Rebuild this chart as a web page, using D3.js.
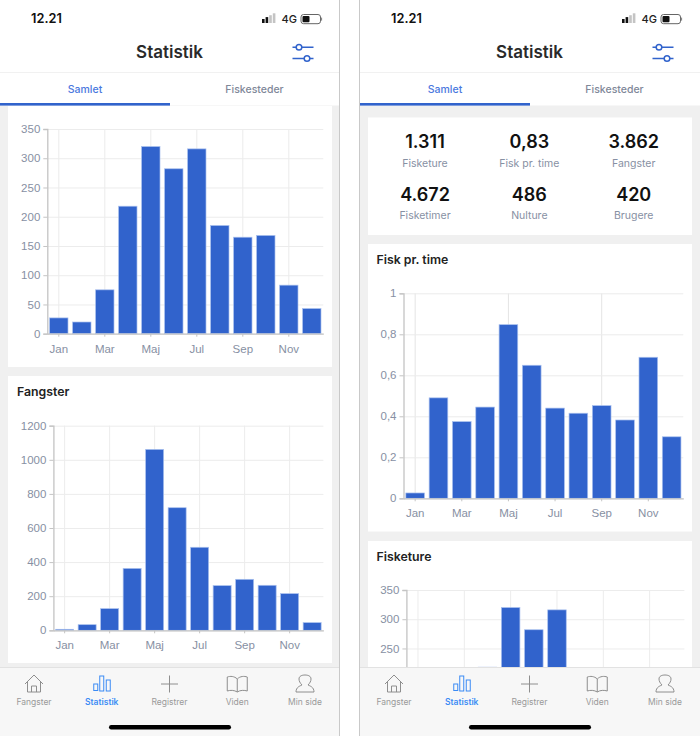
<!DOCTYPE html>
<html>
<head>
<meta charset="utf-8">
<title>Statistik</title>
<script src="https://cdn.jsdelivr.net/npm/d3@7"></script>
<style>
  html, body { margin: 0; padding: 0; background: #fff; }
  svg { display: block; }
  text { font-family: "Liberation Sans", Arial, sans-serif; }
  .ui { font-family: Inter, "Liberation Sans", sans-serif; }
  .axis text { fill: #8790a3; font-size: 11.5px; }
  .axis .domain { stroke: #c4c4c4; stroke-width: 1.3px; }
  .axis .tick line { stroke: #c4c4c4; }
  .grid .domain { display: none; }
  .grid .tick line { stroke: #ececec; }
</style>
</head>
<body>
<svg id="main" width="700" height="736"></svg>
<script>
var months = ["Jan", "Feb", "Mar", "Apr", "Maj", "Jun", "Jul", "Aug", "Sep", "Okt", "Nov", "Dec"];
var monthTicks = ["Jan", "Mar", "Maj", "Jul", "Sep", "Nov"];
var fiskGridMonths = ["Jan", "Maj", "Sep"];

var fisketure = [27, 20, 75, 218, 320, 282, 316, 185, 165, 168, 83, 43];
var fangster = [6, 33, 127, 363, 1061, 719, 487, 262, 299, 264, 215, 45];
var fiskPrTime = [0.026, 0.49, 0.374, 0.445, 0.847, 0.649, 0.44, 0.415, 0.452, 0.382, 0.688, 0.3];

var fisketureTicks = [0, 50, 100, 150, 200, 250, 300, 350];
var fisketureVisibleTicks = [250, 300, 350];
var fangsterTicks = [0, 200, 400, 600, 800, 1000, 1200];
var fiskTicks = [0, 0.2, 0.4, 0.6, 0.8, 1];

var statValues = ["1.311", "0,83", "3.862", "4.672", "486", "420"];
var statLabels = ["Fisketure", "Fisk pr. time", "Fangster", "Fisketimer", "Nulture", "Brugere"];
var tabLabels = ["Fangster", "Statistik", "Registrer", "Viden", "Min side"];

var svg = d3.select("#main");
var blue = "#3163cc";

function commaFormat(d) {
  return String(d).replace(".", ",");
}

function drawBarChart(parent, values, ticks, opt) {
  var g = parent.append("g");
  var labelTicks = opt.labelTicks || ticks;

  var x = d3.scaleBand().domain(months).range([opt.left, opt.right]).paddingInner(0.2).paddingOuter(0.1);
  var y = d3.scaleLinear().domain([0, ticks[ticks.length - 1]]).range([opt.bottom, opt.top]);

  // vertical grid on the labelled months, horizontal on every tick
  var vgrid = g.append("g")
    .attr("class", "grid")
    .attr("transform", "translate(0," + opt.bottom + ")")
    .call(d3.axisBottom(x).tickValues(opt.gridMonths || monthTicks).tickSize(opt.top - opt.bottom).tickFormat(""));
  if (opt.gridColor) vgrid.selectAll(".tick line").style("stroke", opt.gridColor);

  g.append("g")
    .attr("class", "grid")
    .attr("transform", "translate(" + opt.left + ",0)")
    .call(d3.axisLeft(y).tickValues(labelTicks).tickSize(opt.left - opt.right).tickFormat(""));

  g.selectAll("rect.bar")
    .data(values)
    .enter().append("rect")
      .attr("class", "bar")
      .attr("x", function(d, i) { return x(months[i]); })
      .attr("y", function(d) { return y(d); })
      .attr("width", x.bandwidth())
      .attr("height", function(d) { return opt.bottom - y(d); })
      .attr("fill", blue)
      .attr("stroke", "#a9c0ee")
      .attr("stroke-width", 0.7);

  g.append("g")
    .attr("class", "axis")
    .attr("transform", "translate(" + opt.left + ",0)")
    .call(d3.axisLeft(y).tickValues(labelTicks).tickSize(4).tickPadding(3).tickFormat(opt.format || d3.format("d")));

  // the last chart runs on below the tab bar, its month labels are out of view
  if (opt.hideMonths) return g;

  g.append("g")
    .attr("class", "axis")
    .attr("transform", "translate(0," + opt.bottom + ")")
    .call(d3.axisBottom(x).tickValues(monthTicks).tickSize(3).tickPadding(8).tickSizeOuter(0));
  return g;
}

function drawTitle(parent, label, x, y) {
  parent.append("text")
    .attr("class", "ui")
    .attr("x", x)
    .attr("y", y)
    .attr("font-size", 12.3)
    .attr("font-weight", 600)
    .attr("fill", "#222")
    .text(label);
}

function drawTabIcon(g, i, cx) {
  var stroke = i === 1 ? "#3b8bf5" : "#8e8e8e";
  var ic = g.append("g").attr("transform", "translate(" + cx + ",684)")
    .attr("fill", "none").attr("stroke", stroke).attr("stroke-width", 1);
  if (i === 0) {
    ic.append("path").attr("d", "M-9,0 L0,-9 L9,0 M-6.5,-2 V8 H6.5 V-2 M-2.5,8 V2 H2.5 V8");
  } else if (i === 1) {
    ic.append("rect").attr("x", -8).attr("y", 0).attr("width", 4).attr("height", 6.5);
    ic.append("rect").attr("x", -2).attr("y", -8).attr("width", 4).attr("height", 15);
    ic.append("rect").attr("x", 4.5).attr("y", -4).attr("width", 4).attr("height", 11);
  } else if (i === 2) {
    ic.append("path").attr("d", "M-8.5,0 H8.5 M0,-8.5 V8.5");
  } else if (i === 3) {
    ic.append("path").attr("d", "M0,-5 C-3,-8 -7,-8 -10,-7 V7 C-7,6 -3,6 0,8 C3,6 7,6 10,7 V-7 C7,-8 3,-8 0,-5 V8");
  } else {
    ic.append("path").attr("d", "M-9,8 C-9,3 -5,2 -3,1 C-5,-1 -6,-3 -6,-5 C-6,-8 -3,-9 0,-9 C3,-9 6,-8 6,-5 C6,-3 5,-1 3,1 C5,2 9,3 9,8 Z");
  }
}

// everything that is the same on both phone screens
function drawChrome(offset, width) {
  var g = svg.append("g").attr("transform", "translate(" + offset + ",0)");

  g.append("text").attr("class", "ui").attr("x", 31).attr("y", 23)
    .attr("font-size", 12.8).attr("font-weight", 600).attr("fill", "#111").text("12.21");

  // signal
  [0, 1, 2, 3].forEach(function(i) {
    g.append("rect").attr("x", 262 + i * 3.6).attr("y", 21 - 2 - i * 1.9)
      .attr("width", 2.6).attr("height", 4 + i * 1.9)
      .attr("fill", i < 2 ? "#111" : "#c4c4c4");
  });
  g.append("text").attr("class", "ui").attr("x", 281.5).attr("y", 23)
    .attr("font-size", 11).attr("font-weight", 500).attr("fill", "#222").text("4G");
  g.append("rect").attr("x", 301).attr("y", 14.5).attr("width", 19.5).attr("height", 9.2).attr("rx", 2.5)
    .attr("fill", "none").attr("stroke", "#666").attr("stroke-width", 1);
  g.append("rect").attr("x", 302.5).attr("y", 16).attr("width", 7).attr("height", 6.2).attr("rx", 1).attr("fill", "#111");
  g.append("rect").attr("x", 320.8).attr("y", 17.6).attr("width", 1.3).attr("height", 3).attr("fill", "#888");

  g.append("text").attr("class", "ui").attr("x", 169.5).attr("y", 58).attr("text-anchor", "middle")
    .attr("font-size", 17).attr("font-weight", 600).attr("fill", "#2a2a2a").text("Statistik");

  // filter icon
  var f = g.append("g").attr("fill", "#fff").attr("stroke", blue).attr("stroke-width", 1.5);
  f.append("path").attr("d", "M292.5,47.3 H313.5 M292.5,58.5 H313.5");
  f.append("circle").attr("cx", 299).attr("cy", 47.3).attr("r", 2.8);
  f.append("circle").attr("cx", 307).attr("cy", 58.5).attr("r", 2.8);

  g.append("path").attr("d", "M0,72.5 H" + width).attr("stroke", "#f1f1f1");

  g.append("text").attr("class", "ui").attr("x", 85).attr("y", 93).attr("text-anchor", "middle")
    .attr("font-size", 10.5).attr("font-weight", 500).attr("fill", "#4a78de").text("Samlet");
  g.append("text").attr("class", "ui").attr("x", 254.5).attr("y", 93).attr("text-anchor", "middle")
    .attr("font-size", 10.5).attr("font-weight", 500).attr("fill", "#7f8899").text("Fiskesteder");
  g.append("rect").attr("x", 0).attr("y", 103).attr("width", 170).attr("height", 2.6).attr("fill", blue);
}

function drawTabBar(offset, width) {
  var g = svg.append("g").attr("transform", "translate(" + offset + ",0)");
  g.append("rect").attr("x", 0).attr("y", 667.5).attr("width", width).attr("height", 68.5).attr("fill", "#f7f7f7");
  g.append("path").attr("d", "M0,667.5 H" + width).attr("stroke", "#e2e2e2");

  var tabX = d3.scalePoint().domain(tabLabels).range([34, 305]);
  tabLabels.forEach(function(label, i) {
    drawTabIcon(g, i, tabX(label));
    g.append("text").attr("class", "ui").attr("x", tabX(label)).attr("y", 705).attr("text-anchor", "middle")
      .attr("font-size", 8.5).attr("font-weight", i === 1 ? 600 : 400)
      .attr("fill", i === 1 ? "#3b8bf5" : "#9a9a9a").text(label);
  });
  g.append("rect").attr("x", 109).attr("y", 725).attr("width", 122).attr("height", 4.5).attr("rx", 2.2).attr("fill", "#000");
}

// page backgrounds
svg.append("rect").attr("x", 0).attr("y", 105.5).attr("width", 339).attr("height", 563).attr("fill", "#f0f0f0");
svg.append("rect").attr("x", 360).attr("y", 105.5).attr("width", 340).attr("height", 563).attr("fill", "#f0f0f0");

function card(x, y, w, h) {
  svg.append("rect").attr("x", x).attr("y", y).attr("width", w).attr("height", h).attr("fill", "#fff");
}

// left screen
card(8, 106, 324, 261);
card(8, 376, 324, 287);
card(368, 117.5, 324, 117.5);
card(368, 244, 324, 287.5);
card(368, 541, 324, 128);

drawBarChart(svg, fisketure, fisketureTicks, { left: 47.3, right: 323.3, top: 129, bottom: 333.7 });
drawTitle(svg, "Fangster", 17, 396);
drawBarChart(svg, fangster, fangsterTicks, { left: 53.4, right: 323.4, top: 425.7, bottom: 630.3 });

// right screen
var statX = d3.scalePoint().domain([0, 1, 2]).range([425, 633.7]);
statValues.forEach(function(v, i) {
  var col = i % 3, row = Math.floor(i / 3);
  svg.append("text").attr("class", "ui").attr("x", statX(col)).attr("y", 147.7 + row * 53)
    .attr("text-anchor", "middle").attr("font-size", 18).attr("font-weight", 600).attr("fill", "#111").text(v);
  svg.append("text").attr("class", "ui").attr("x", statX(col)).attr("y", 166.5 + row * 52.8)
    .attr("text-anchor", "middle").attr("font-size", 10.5).attr("fill", "#8790a3").text(statLabels[i]);
});

drawTitle(svg, "Fisk pr. time", 376.5, 264);
drawBarChart(svg, fiskPrTime, fiskTicks, {
  left: 403.5, right: 683.3, top: 293.3, bottom: 498.3, format: commaFormat,
  gridMonths: fiskGridMonths, gridColor: "#e4e4e4"
});
drawTitle(svg, "Fisketure", 376.5, 560.5);

svg.append("clipPath").attr("id", "scroll-clip")
  .append("rect").attr("x", 360).attr("y", 541).attr("width", 340).attr("height", 127);
drawBarChart(svg, fisketure, fisketureTicks, {
  left: 406.4, right: 684.4, top: 590, bottom: 794.6,
  labelTicks: fisketureVisibleTicks, hideMonths: true
}).attr("clip-path", "url(#scroll-clip)");

drawChrome(0, 339);
drawChrome(360, 340);
drawTabBar(0, 339);
drawTabBar(360, 340);

// screen edges
svg.append("path").attr("d", "M339.5,0 V736 M359.5,0 V736").attr("stroke", "#c9c9c9").attr("stroke-width", 1);
</script>
</body>
</html>
